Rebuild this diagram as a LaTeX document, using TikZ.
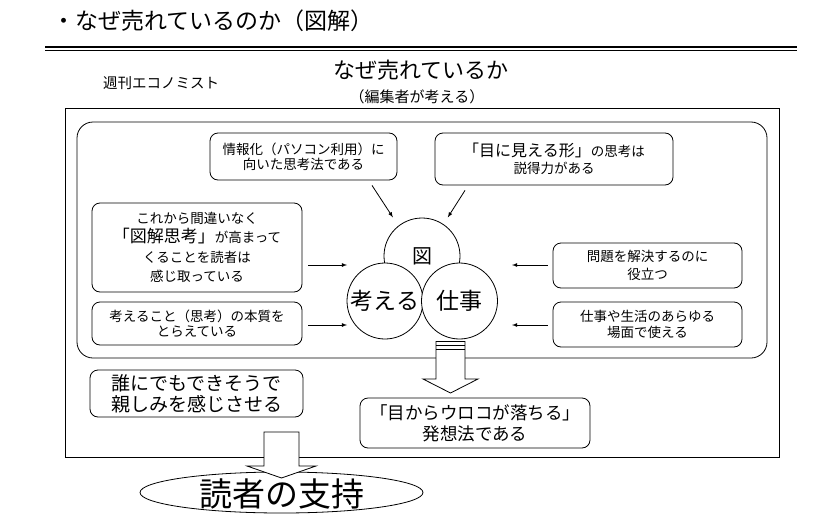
\documentclass[tikz,border=0pt]{standalone}
\usepackage{fontspec}
\setmainfont{Noto Sans CJK JP}
\tikzset{
  reason/.style={draw, rounded corners=8pt, align=center, inner sep=0pt, line width=0.8pt},
  idea/.style={circle, draw, fill=white, minimum size=76pt, inner sep=0pt, line width=0.8pt, font=\fontsize{23}{23}\selectfont},
  push/.style={->, >=latex, line width=0.8pt},
  fat/.style={draw, fill=white, line width=0.8pt, line join=miter},
}
\newcommand{\fs}[2]{\fontsize{#1}{#2}\selectfont}

\begin{document}
\begin{tikzpicture}[x=1pt,y=-1pt]
\useasboundingbox (0,0) rectangle (840,522);
% heading
\node[anchor=west, font=\fs{23}{23}] (title) at (49,21) {・なぜ売れているのか（図解）};
\draw[line width=2pt] (45,46.5) -- (797,46.5);
\draw[line width=0.8pt] (45,50.5) -- (797,50.5);
\node[font=\fs{14.5}{15}] (mag) at (161,83) {週刊エコノミスト};
\node[font=\fs{22}{22}] (head) at (421,70) {なぜ売れているか};
\node[font=\fs{15}{15}] (sub) at (417,97) {（編集者が考える）};

% frames
\draw[line width=0.8pt] (65,108) rectangle (779,457);
\draw[line width=0.8pt, rounded corners=16pt] (77,122) rectangle (767,358);

% reasons round the circles
\node[reason, minimum width=187pt, minimum height=47pt, font=\fs{13.5}{15}] (info) at (303.5,156.5)
  {情報化（パソコン利用）に\\向いた思考法である};
\node[reason, minimum width=238pt, minimum height=52pt, font=\fs{13.5}{17}] (visible) at (554,159)
  {{\fs{16}{17}「目に見える形」}の思考は\\説得力がある};
\node[reason, minimum width=210pt, minimum height=89pt, font=\fs{13.5}{19.5}] (rising) at (197,247.5)
  {これから間違いなく\\{\fs{17}{19.5}「図解思考」}が高まって\\くることを読者は\\感じ取っている};
\node[reason, minimum width=210pt, minimum height=43pt, font=\fs{13.5}{15.5}] (essence) at (197,323.5)
  {考えること（思考）の本質を\\とらえている};
\node[reason, minimum width=189pt, minimum height=45pt, font=\fs{13.5}{18}] (solve) at (647.5,265.5)
  {問題を解決するのに\\役立つ};
\node[reason, minimum width=189pt, minimum height=45pt, font=\fs{13.5}{15.5}] (usable) at (647.5,324.5)
  {仕事や生活のあらゆる\\場面で使える};

% the three circles
\node[idea, font=\fs{20}{20}] (zu) at (422,256) {図};
\node[idea] (think) at (385,301) {考える};
\node[idea] (work) at (459.5,301) {仕事};

\coordinate (in3) at (347,265);
\coordinate (in4) at (347,325);
\coordinate (in5) at (512,265);
\coordinate (in6) at (512,325);
\draw[push, shorten >=10pt] ([xshift=68.5pt, yshift=-5pt]info.south) -- (zu.128);
\draw[push, shorten >=8pt] ([xshift=-89pt, yshift=-5pt]visible.south) -- (zu.56);
\draw[push, shorten <=6pt] (rising.east |- in3) -- (in3);
\draw[push, shorten <=6pt] (essence.east |- in4) -- (in4);
\draw[push, shorten <=5pt] (solve.west |- in5) -- (in5);
\draw[push, shorten <=5pt] (usable.west |- in6) -- (in6);

% block arrow down to the result
\draw[fat] (436,341.5) -- (465,341.5) -- (465,379) -- (478,379) -- (450.5,393)
  -- (423,379) -- (436,379) -- cycle;
\draw[line width=0.8pt] (436,345) -- (465,345);
\draw[line width=0.8pt] (436,349) -- (465,349);

\node[reason, minimum width=230pt, minimum height=50pt, font=\fs{17.5}{21}] (scales) at (475,423)
  {「目からウロコが落ちる」\\発想法である};
\node[reason, minimum width=213pt, minimum height=47pt, font=\fs{19}{21}] (friendly) at (196.5,393.5)
  {誰にでもできそうで\\親しみを感じさせる};

% readers' support
\node[font=\fs{33}{33}] (support) at (281.5,494) {読者の支持};
\draw[line width=0.8pt] (281.5,492.5) ellipse [x radius=141.5, y radius=20.5];
\draw[fat] (264,432) -- (299,432) -- (299,466) -- (316,466) -- (281.5,478)
  -- (247,466) -- (264,466) -- cycle;
\end{tikzpicture}
\end{document}
